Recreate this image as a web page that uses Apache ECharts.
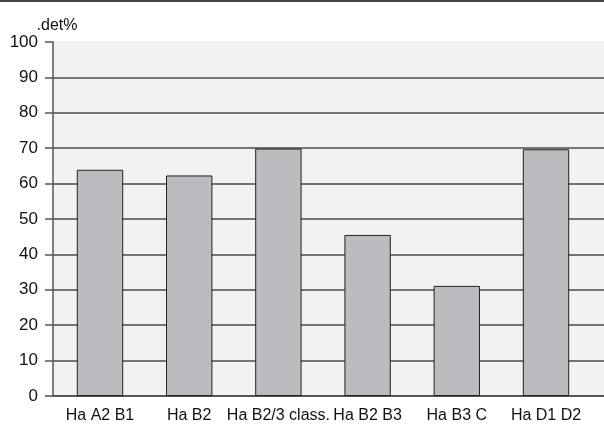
<!DOCTYPE html>
<html><head><meta charset="utf-8">
<script src="https://cdn.jsdelivr.net/npm/echarts@6/dist/echarts.min.js"></script>
<style>html,body{margin:0;padding:0;background:#fff}#c{width:604px;height:428px}</style>
</head><body><div id="c"></div>
<script>
const categories = ['Ha A2 B1', 'Ha B2', 'Ha B2/3 class.', 'Ha B2 B3', 'Ha B3 C', 'Ha D1 D2'];
const values = [63.9, 62.3, 69.9, 45.5, 31.1, 69.7];
const yName = '.det%';
const yMin = 0, yMax = 100, yStep = 10;

const font = 'Liberation Sans, Arial, sans-serif';
const gridColors = [];
for (let v = yMin; v <= yMax; v += yStep) gridColors.push(v === yMax ? '#f1f2f4' : '#4a4a4a');

const chart = echarts.init(document.getElementById('c'), null, {renderer: 'canvas'});
chart.setOption({
  animation: false,
  graphic: [{type: 'line', shape: {x1: 0, y1: 1, x2: 604, y2: 1}, style: {stroke: '#444', lineWidth: 2}}],
  grid: [
    {left: 53, right: 0, top: 42, bottom: 32, show: true, backgroundColor: '#f1f2f4', borderWidth: 0},
    {left: 55.4, width: 535.2, top: 42, bottom: 32}
  ],
  xAxis: [
    {gridIndex: 0, type: 'category', data: categories.map(() => ''), axisLine: {lineStyle: {color: '#4a4a4a', width: 1.5}}, axisTick: {show: false}, axisLabel: {show: false}},
    {gridIndex: 1, type: 'category', data: categories, axisLine: {show: false}, axisTick: {show: false},
     axisLabel: {color: '#111', fontFamily: font, fontSize: 16, margin: 12, interval: 0}}
  ],
  yAxis: [
    {gridIndex: 0, type: 'value', min: yMin, max: yMax, interval: yStep,
     name: yName, nameLocation: 'end', nameGap: 8,
     nameTextStyle: {color: '#111', fontFamily: font, fontSize: 16, align: 'center', padding: [0, 0, 0, 8]},
     axisLine: {show: true, lineStyle: {color: '#555', width: 1.5}},
     axisTick: {show: true, length: 8, lineStyle: {color: '#555', width: 1.5}},
     axisLabel: {color: '#111', fontFamily: font, fontSize: 17, margin: 15},
     splitLine: {show: true, lineStyle: {color: gridColors, width: 1.5}}},
    {gridIndex: 1, type: 'value', min: yMin, max: yMax, interval: yStep, show: false, splitLine: {show: false}}
  ],
  series: [{
    type: 'bar', xAxisIndex: 1, yAxisIndex: 1, data: values, barWidth: '52%',
    itemStyle: {color: '#bbbcc0', borderColor: '#222', borderWidth: 1}
  }]
});
</script></body></html>
